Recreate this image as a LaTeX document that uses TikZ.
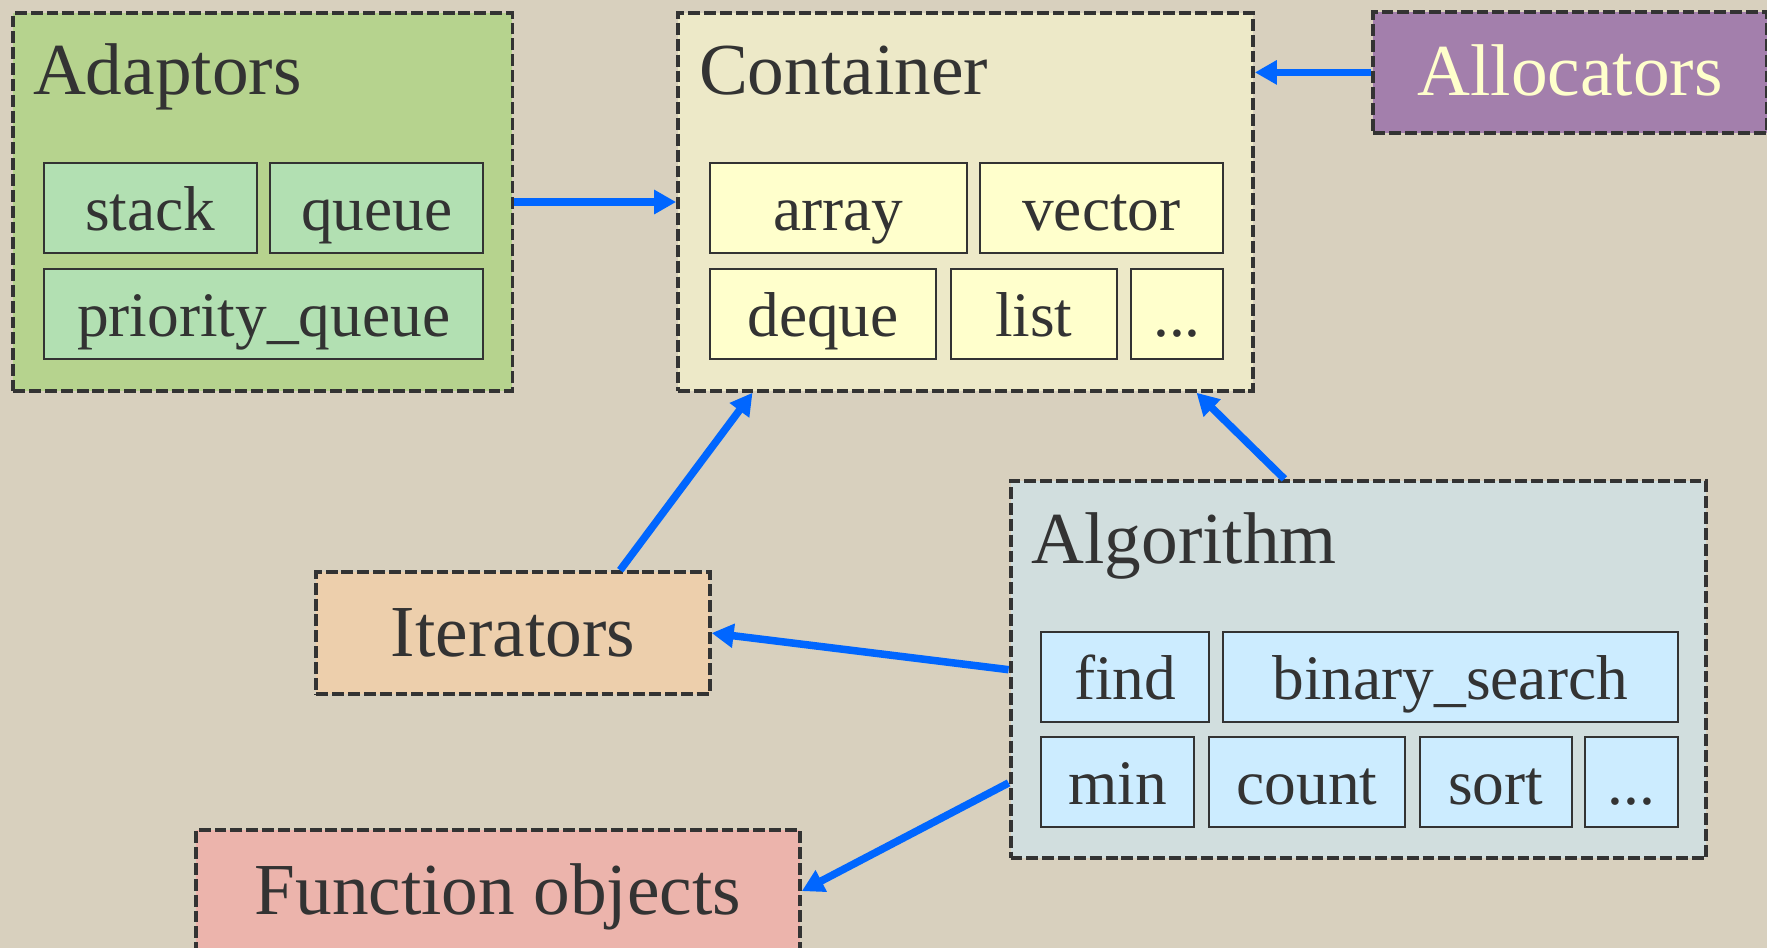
\documentclass[tikz,border=0pt]{standalone}
\usepackage{fontspec}
\setmainfont{Liberation Serif}
\usetikzlibrary{arrows.meta}
\definecolor{paper}{RGB}{216,208,190}
\definecolor{ink}{RGB}{51,51,51}
\definecolor{linkblue}{RGB}{0,102,255}
\definecolor{adaptfill}{RGB}{182,211,142}
\definecolor{adaptitem}{RGB}{178,224,178}
\definecolor{contfill}{RGB}{237,233,200}
\definecolor{contitem}{RGB}{255,255,204}
\definecolor{allocfill}{RGB}{163,127,172}
\definecolor{iterfill}{RGB}{237,207,172}
\definecolor{algofill}{RGB}{209,222,222}
\definecolor{algoitem}{RGB}{204,236,255}
\definecolor{funcfill}{RGB}{236,180,172}
\begin{document}
\begin{tikzpicture}
            [x=0.2mm,y=-0.2mm,
            Group/.style={draw=ink,line width=2pt,dash pattern=on 6pt off 2pt,anchor=north west,inner sep=0pt},
            Box/.style={Group,text=ink,font=\fontsize{37}{40}\selectfont,text height=31pt,text depth=7.6pt},
            Item/.style={draw=ink,line width=1pt,anchor=north west,inner sep=0pt,minimum height=16mm,
                text=ink,font=\fontsize{32}{36}\selectfont,text height=29pt,text depth=6.2pt},
            Title/.style={anchor=base west,inner sep=0pt,text=ink,font=\fontsize{37}{40}\selectfont},
            Link/.style={draw=linkblue,line width=3.8pt,-{Triangle[length=3.9mm,width=4.1mm]}}];
            \clip (0,0) rectangle (1568,841);
            \fill[paper] (0,0) rectangle (1568,841);
            \node[Group,fill=adaptfill,minimum width=88.6mm,minimum height=67mm] (ad) at (10,10) {};
            \node[Title] (adt) at (29,84) {Adaptors};
            \node[Item,fill=adaptitem,minimum width=37.8mm] (stack) at (38,144) {stack};
            \node[Item,fill=adaptitem,minimum width=37.8mm] (queue) at (239,144) {queue};
            \node[Item,fill=adaptitem,minimum width=78mm] (pq) at (38,238) {priority\_queue};
            \node[Group,fill=contfill,minimum width=102mm,minimum height=67mm] (con) at (600,10) {};
            \node[Title] (cont) at (620,84) {Container};
            \node[Item,fill=contitem,minimum width=45.6mm] (array) at (629,144) {array};
            \node[Item,fill=contitem,minimum width=43mm] (vector) at (869,144) {vector};
            \node[Item,fill=contitem,minimum width=40.2mm] (deque) at (629,238) {deque};
            \node[Item,fill=contitem,minimum width=29.4mm] (list) at (843,238) {list};
            \node[Item,fill=contitem,minimum width=16.2mm] (cdots) at (1003,238) {...};
            \node[Box,fill=allocfill,text=contitem,minimum width=69.8mm,minimum height=21.4mm] (alloc) at (1217,9) {Allocators};
            \node[Box,fill=iterfill,minimum width=69.8mm,minimum height=21.6mm] (it) at (279,506) {Iterators};
            \node[Group,fill=algofill,minimum width=123.4mm,minimum height=67mm] (alg) at (895,425) {};
            \node[Title] (algt) at (915,500) {Algorithm};
            \node[Item,fill=algoitem,minimum width=29.8mm] (find) at (923,560) {find};
            \node[Item,fill=algoitem,minimum width=80.8mm] (bsearch) at (1084,560) {binary\_search};
            \node[Item,fill=algoitem,minimum width=27.2mm] (min) at (923,653) {min};
            \node[Item,fill=algoitem,minimum width=34.8mm] (count) at (1072,653) {count};
            \node[Item,fill=algoitem,minimum width=27mm] (sort) at (1259,653) {sort};
            \node[Item,fill=algoitem,minimum width=16.4mm] (adots) at (1406,653) {...};
            \node[Box,fill=funcfill,minimum width=107.2mm,minimum height=21.6mm] (fo) at (172,735) {Function objects};
            \draw[Link] (ad.east) -- (con.west);
            \draw[Link] (alloc.west) -- (alloc.west -| con.east);
            \draw[Link] ([xshift=19mm]it.north) -- ([xshift=-37.8mm]con.south);
            \draw[Link] ([xshift=-13.1mm]alg.north) -- ([xshift=41mm]con.south);
            \draw[Link] (alg.west) -- (it.east);
            \draw[Link] ([yshift=-20.1mm]alg.west) -- (fo.east);
        \end{tikzpicture}
\end{document}
